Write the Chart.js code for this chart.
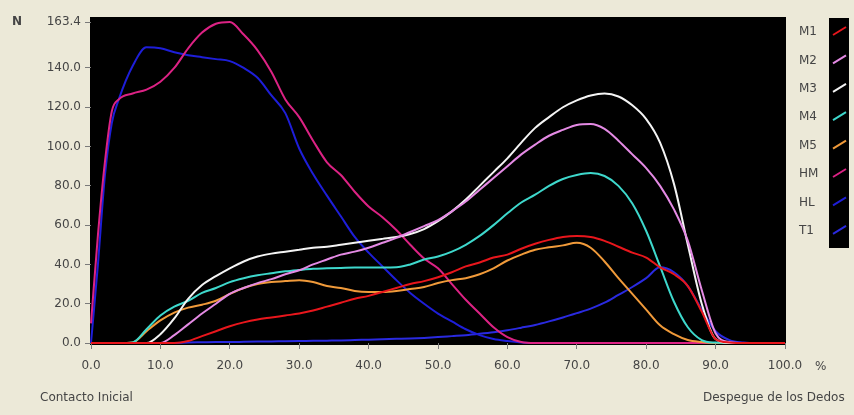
<!DOCTYPE html>
<html>
<head>
<meta charset="utf-8">
<script src="https://cdn.jsdelivr.net/npm/chart.js@4/dist/chart.umd.min.js"></script>
<style>
  html, body { margin: 0; padding: 0; background: #ECE9D8; overflow: hidden; }
  canvas { display: block; }
</style>
</head>
<body>
<canvas id="presion" width="854" height="415"></canvas>
<script>
// % del apoyo (eje x)
var pct = [0, 1, 2, 3, 4, 6, 8, 10, 12, 14, 16, 18, 20, 22, 24, 26, 28, 30, 32, 34, 36, 38, 40,
  42, 44, 46, 48, 50, 52, 54, 56, 58, 60, 62, 64, 66, 68, 70, 72, 74, 76, 78, 80,
  82, 84, 86, 88, 90, 92, 94, 96, 98, 100];

// fuerza (N) por zona
var m1 = [0, 0, 0, 0, 0, 0, 0, 0, 0,
  1, 3.5, 6, 8.5, 10.5, 12, 13, 14, 15, 16.5,
  18.5, 20.5, 22.5, 24, 26, 28, 30, 31.5, 33.5, 36,
  39, 41, 43.5, 45, 48, 50.5, 52.5, 54, 54.5, 54,
  52, 49, 46, 43.5, 38.5, 35, 29, 16, 2, 0.3,
  0, 0, 0, 0];
var m2 = [0, 0, 0, 0, 0, 0, 0, 0,
  4, 9.5, 15, 20, 25, 28, 30.5, 32.5, 35, 37,
  40, 42.5, 45, 46.5, 48.5, 51, 53.5, 56.5, 59.5, 62.5,
  67, 72, 78, 84, 90, 96, 101, 105.5, 108.5, 111,
  111.5, 109, 103, 96, 89, 80, 68, 52, 27, 5,
  0.5, 0, 0, 0, 0];
var m3 = [0, 0, 0, 0, 0, 0, 0,
  4.5, 12.5, 22.5, 29.5, 34, 38, 41.5, 44, 45.5, 46.5,
  47.5, 48.5, 49, 50, 51, 52, 53, 54, 55.5, 58,
  62, 67, 73, 80, 87, 94, 102, 109.5, 115, 120,
  123.5, 126, 127, 125.5, 121, 114, 102, 81, 50, 20,
  2, 0, 0, 0, 0, 0];
var m4 = [0, 0, 0, 0, 0,
  0.3, 7, 14, 18.5, 21.5, 25.5, 28, 31, 33, 34.5,
  35.5, 36.5, 37.2, 37.8, 38, 38.2, 38.4, 38.4, 38.4, 38.5,
  40, 42.5, 44, 46.5, 50, 54.5, 60, 66, 71.5, 75.5,
  80, 83.5, 85.5, 86.5, 85, 80, 71, 57, 39, 21,
  8, 1.5, 0.2, 0, 0, 0, 0, 0];
var m5 = [0, 0, 0, 0, 0,
  0.3, 6, 11.5, 15.5, 18, 19.5, 21.5, 25, 28, 30,
  31, 31.5, 32, 31, 29, 28, 26.5, 26, 26, 26.5,
  27.5, 28.5, 30.5, 32, 33, 35, 38, 42, 45, 47.5,
  48.7, 49.7, 51, 48.5, 41.5, 33, 25, 17, 9, 4.5,
  1.5, 0.5, 0, 0, 0, 0, 0, 0];
var hm = [10, 55, 92, 118, 124, 127, 129, 133, 140, 150,
  158, 162.5, 163.4, 157, 149, 138, 124, 115, 103, 92,
  85.5, 77, 69.5, 64, 57.5, 50, 43, 38, 30, 22,
  15, 8, 3, 0.5,
  0, 0, 0, 0, 0, 0, 0, 0, 0, 0, 0, 0, 0, 0, 0, 0, 0, 0, 0];
var hl = [0, 40, 85, 112, 124, 141, 150.5, 150, 148, 146.5,
  145.5, 144.5, 143.5, 140, 135, 126, 117, 99, 86, 75,
  64.5, 54, 46, 39, 32, 25.5, 20, 15, 11, 7,
  4, 2, 1, 0.3,
  0, 0, 0, 0, 0, 0, 0, 0, 0, 0, 0, 0, 0, 0, 0, 0, 0, 0, 0];
var t1 = [0, 0, 0, 0, 0, 0, 0, 0, 0,
  0.3, 0.4, 0.5, 0.5, 0.6, 0.7, 0.8, 0.9, 1, 1.1,
  1.2, 1.3, 1.5, 1.7, 1.9, 2.1, 2.3, 2.6, 3, 3.5,
  4, 4.7, 5.5, 6.5, 7.8, 9.2, 11, 13, 15.2, 17.5,
  20.5, 24.5, 28.5, 33, 38.5, 36, 29, 17, 6, 1.5,
  0.3, 0, 0, 0];

var zonas = ["M1", "M2", "M3", "M4", "M5", "HM", "HL", "T1"];
var series = [m1, m2, m3, m4, m5, hm, hl, t1];
var colores = ["#E8161C", "#E48AE4", "#F4F4F4", "#3ED8CC", "#F09A3A", "#DC2284", "#1E1ED8", "#2A2AE0"];

var yTicks = [0, 20, 40, 60, 80, 100, 120, 140, 163.4];
var xTicks = [0, 10, 20, 30, 40, 50, 60, 70, 80, 90, 100];

var txt = '#454545';
var fuente = { family: 'DejaVu Sans', size: 12 };

// fondo gris, area negra, leyenda y rotulos
var marco = {
  id: 'marco',
  beforeDraw: function (chart) {
    var c = chart.ctx, a = chart.chartArea;
    c.save();
    c.fillStyle = '#ECE9D8';
    c.fillRect(0, 0, chart.width, chart.height);
    c.fillStyle = '#000';
    c.fillRect(a.left - 1, a.top - 5, a.right - a.left + 2, a.bottom - a.top + 7);
    c.restore();
  },
  afterDraw: function (chart) {
    var c = chart.ctx;
    c.save();
    c.fillStyle = txt;
    c.textBaseline = 'middle';
    c.font = 'bold 12px "DejaVu Sans"';
    c.fillText('N', 12, 22);
    c.font = '12px "DejaVu Sans"';
    c.fillText('%', 815, 367);
    c.fillText('Contacto Inicial', 40, 398);
    c.fillText('Despegue de los Dedos', 703, 398);

    // leyenda
    c.fillStyle = '#000';
    c.fillRect(829, 18, 20, 230);
    for (var i = 0; i < zonas.length; i++) {
      var y = 32 + i * 28.4;
      c.fillStyle = txt;
      c.fillText(zonas[i], 799, y);
      c.strokeStyle = colores[i];
      c.lineWidth = 2;
      c.beginPath();
      c.moveTo(833, y + 3);
      c.lineTo(846, y - 5);
      c.stroke();
    }
    c.restore();
  }
};

var ctx = document.getElementById('presion').getContext('2d');
var chart = new Chart(ctx, {
  type: 'line',
  data: {
    datasets: zonas.map(function (z, i) {
      return {
        label: z,
        data: pct.map(function (x, j) { return { x: x, y: series[i][j] }; }),
        borderColor: colores[i],
        borderWidth: 2,
        pointRadius: 0,
        fill: false,
        cubicInterpolationMode: 'monotone',
        clip: 4
      };
    })
  },
  options: {
    responsive: false,
    animation: false,
    layout: { padding: { left: 0, right: 69, top: 22, bottom: 0 } },
    plugins: { legend: { display: false }, tooltip: { enabled: false } },
    scales: {
      x: {
        type: 'linear',
        min: 0,
        max: 100,
        afterFit: function (s) { s.height = 72; },
        afterBuildTicks: function (s) { s.ticks = xTicks.map(function (v) { return { value: v }; }); },
        ticks: {
          color: txt, font: fuente, padding: 10, maxRotation: 0, autoSkip: false,
          callback: function (v) { return v.toFixed(1); }
        },
        grid: { drawOnChartArea: false, tickLength: 6, color: '#7a7a7a' },
        border: { display: false }
      },
      y: {
        min: 0,
        max: 163.4,
        afterFit: function (s) { s.width = 91; },
        afterBuildTicks: function (s) { s.ticks = yTicks.map(function (v) { return { value: v }; }); },
        ticks: {
          color: txt, font: fuente, padding: 4, autoSkip: false,
          callback: function (v) { return v.toFixed(1); }
        },
        grid: { drawOnChartArea: false, tickLength: 6, color: '#7a7a7a' },
        border: { display: false }
      }
    }
  },
  plugins: [marco]
});
</script>
</body>
</html>
